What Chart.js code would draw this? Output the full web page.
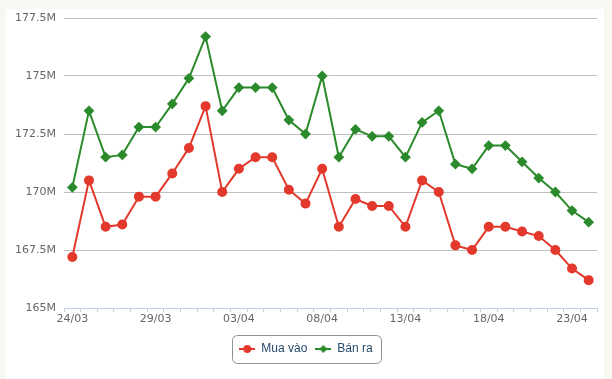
<!DOCTYPE html>
<html>
<head>
<meta charset="utf-8">
<script src="https://cdn.jsdelivr.net/npm/chart.js@4/dist/chart.umd.min.js"></script>
<style>
html,body{margin:0;padding:0;background:#f8f7f2;}
#wrap{position:relative;width:612px;height:379px;}
</style>
</head>
<body>
<div id="wrap"><canvas id="c" width="612" height="379"></canvas></div>
<script>
const dates = ['24/03','25/03','26/03','27/03','28/03','29/03','30/03','31/03',
  '01/04','02/04','03/04','04/04','05/04','06/04','07/04','08/04','09/04','10/04',
  '11/04','12/04','13/04','14/04','15/04','16/04','17/04','18/04','19/04','20/04',
  '21/04','22/04','23/04','24/04'];
const muaVao = [167.2,170.5,168.5,168.6,169.8,169.8,170.8,171.9,173.7,170.0,171.0,171.5,171.5,170.1,169.5,171.0,
  168.5,169.7,169.4,169.4,168.5,170.5,170.0,167.7,167.5,168.5,168.5,168.3,168.1,167.5,166.7,166.2];
const banRa = [170.2,173.5,171.5,171.6,172.8,172.8,173.8,174.9,176.7,173.5,174.5,174.5,174.5,173.1,172.5,175.0,
  171.5,172.7,172.4,172.4,171.5,173.0,173.5,171.2,171.0,172.0,172.0,171.3,170.6,170.0,169.2,168.7];
const seriesNames = ['Mua vào','Bán ra'];
const yMin = 165, yMax = 177.5, yStep = 2.5; // millions

const RED = '#e3392c', GREEN = '#2b8a2b';

function legendIcon(color, style){
  const cv = document.createElement('canvas');
  cv.width = 16; cv.height = 10;
  const g = cv.getContext('2d');
  g.strokeStyle = color; g.lineWidth = 2;
  g.beginPath(); g.moveTo(0,5); g.lineTo(16,5); g.stroke();
  g.fillStyle = color;
  g.beginPath();
  if (style === 'circle') { g.arc(8,5,4,0,Math.PI*2); }
  else { g.moveTo(8,1); g.lineTo(12,5); g.lineTo(8,9); g.lineTo(4,5); g.closePath(); }
  g.fill();
  return cv;
}
const icons = [legendIcon(RED,'circle'), legendIcon(GREEN,'diamond')];

const bgPlugin = {
  id:'bg',
  beforeDraw(chart){
    const ctx = chart.ctx;
    ctx.save();
    ctx.fillStyle = '#f8f7f2';
    ctx.fillRect(0,0,chart.width,chart.height);
    ctx.fillStyle = '#ffffff';
    ctx.fillRect(6,9,598,chart.height-9);
    ctx.restore();
  }
};
const legendBox = {
  id:'legendBox',
  afterDraw(chart){
    const lg = chart.legend;
    if (!lg || !lg.legendHitBoxes || !lg.legendHitBoxes.length) return;
    const hb = lg.legendHitBoxes;
    const l = Math.min(...hb.map(h=>h.left)) - 7;
    const r = Math.max(...hb.map(h=>h.left+h.width)) + 9;
    const cy = hb[0].top + hb[0].height/2;
    const t = cy - 14, b = cy + 14;
    const ctx = chart.ctx;
    ctx.save();
    ctx.strokeStyle = '#909090'; ctx.lineWidth = 1;
    ctx.beginPath();
    ctx.roundRect(Math.round(l)+0.5, Math.round(t)+0.5, Math.round(r-l), Math.round(b-t), 5);
    ctx.stroke();
    ctx.restore();
  }
};

new Chart(document.getElementById('c'), {
  type:'line',
  data:{
    labels: dates,
    datasets:[
      {label:seriesNames[0], data:muaVao.map(v=>v*1e6), borderColor:RED, backgroundColor:RED,
       borderWidth:2, pointStyle:'circle', pointRadius:4, pointHoverRadius:4, tension:0},
      {label:seriesNames[1], data:banRa.map(v=>v*1e6), borderColor:GREEN, backgroundColor:GREEN,
       borderWidth:2, pointStyle:'rectRot', pointRadius:4, pointHoverRadius:4, tension:0}
    ]
  },
  options:{
    responsive:false, animation:false, devicePixelRatio:1,
    layout:{padding:{left:0,right:0,top:18,bottom:14}},
    plugins:{
      tooltip:{enabled:false},
      legend:{
        position:'bottom',
        labels:{
          usePointStyle:true, pointStyleWidth:16, boxHeight:10, padding:8,
          color:'#274b6d', font:{family:'"Liberation Sans", Arial, sans-serif', size:12},
          generateLabels(chart){
            return chart.data.datasets.map((d,i)=>({
              text:d.label, pointStyle:icons[i], fillStyle:d.borderColor, strokeStyle:d.borderColor,
              fontColor:'#274b6d', lineWidth:0, hidden:false, datasetIndex:i
            }));
          }
        }
      }
    },
    scales:{
      x:{
        offset:true,
        grid:{display:true, drawOnChartArea:false, offset:true, tickLength:4, tickColor:'#c0d0e0', color:'#c0d0e0'},
        border:{display:true, color:'#c0d0e0', width:1},
        ticks:{autoSkip:false, maxRotation:0, minRotation:0, padding:1, color:'#666',
          font:{family:'"DejaVu Sans", Verdana, sans-serif', size:11},
          callback:(v,i)=> i%5===0 ? dates[i] : ''},
        afterFit(s){ s.height = 27; }
      },
      y:{
        min:yMin*1e6, max:yMax*1e6,
        grid:{color:'#c0c0c0', drawTicks:false, lineWidth:1},
        border:{display:false},
        ticks:{stepSize:yStep*1e6, padding:8, color:'#666',
          font:{family:'"DejaVu Sans", Verdana, sans-serif', size:11},
          callback:(v)=> (v/1e6) + 'M'},
        afterFit(s){ s.width = 64; }
      },
      yRight:{
        position:'right', min:yMin*1e6, max:yMax*1e6,
        grid:{display:false, drawOnChartArea:false},
        border:{display:false},
        ticks:{display:false},
        afterFit(s){ s.width = 15; }
      }
    }
  },
  plugins:[bgPlugin, legendBox]
});
</script>
</body>
</html>
